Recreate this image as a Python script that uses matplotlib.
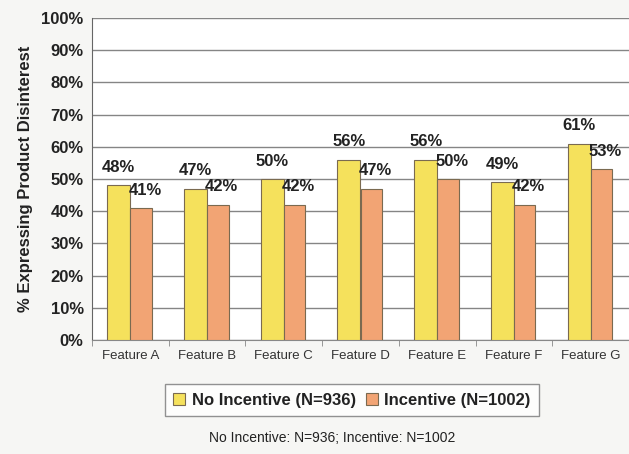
import numpy as np
import matplotlib.pyplot as plt

features = ['Feature A', 'Feature B', 'Feature C', 'Feature D', 'Feature E', 'Feature F', 'Feature G']
no_incentive = [48, 47, 50, 56, 56, 49, 61]
incentive = [41, 42, 42, 47, 50, 42, 53]

plt.rcParams['font.family'] = ['Liberation Sans', 'DejaVu Sans']

fig = plt.figure(figsize=(6.29, 4.54), dpi=100, facecolor='#f6f6f4')
ax = fig.add_axes([92 / 629, 1 - 340 / 454, 537 / 629, 322 / 454])
ax.set_facecolor('white')

x = np.arange(len(features))
w_yellow = 0.30
w_orange = 0.28
edge = '#7a6a50'

bars1 = ax.bar(x - w_yellow / 2, no_incentive, width=w_yellow, color='#f5e15c',
               edgecolor=edge, linewidth=0.8, label='No Incentive (N=936)', zorder=3)
bars2 = ax.bar(x + w_orange / 2, incentive, width=w_orange, color='#f2a474',
               edgecolor=edge, linewidth=0.8, label='Incentive (N=1002)', zorder=3)

# value labels above each bar
for xi, v in zip(x, no_incentive):
    ax.text(xi - w_yellow / 2, v + 3.2, f'{v}%', ha='center', va='bottom',
            fontsize=12, fontweight='bold', color='#222222', zorder=4)
for xi, v in zip(x, incentive):
    ax.text(xi + w_orange / 2 + 0.05, v + 3.2, f'{v}%', ha='center', va='bottom',
            fontsize=12, fontweight='bold', color='#222222', zorder=4)

ax.set_xlim(-0.5, 6.5)
ax.set_ylim(0, 100)
ax.set_yticks(np.arange(0, 101, 10))
ax.set_yticklabels([f'{t}%' for t in range(0, 101, 10)], fontsize=12,
                   fontweight='bold', color='#222222')
ax.yaxis.grid(True, color='#858585', linewidth=1.0, zorder=0)
ax.tick_params(axis='y', length=0, pad=6)

ax.set_xticks(x)
ax.set_xticklabels(features, fontsize=9.5, color='#333333')
ax.set_xticks(np.arange(-0.5, 7, 1), minor=True)
ax.tick_params(axis='x', which='major', length=0, pad=7)
ax.tick_params(axis='x', which='minor', length=4, color='#888888', direction='out')

for side in ['top', 'right']:
    ax.spines[side].set_visible(False)
ax.spines['left'].set_color('#666666')
ax.spines['bottom'].set_color('#888888')

ax.set_ylabel('% Expressing Product Disinterest', fontsize=12, fontweight='bold',
              color='#222222', labelpad=6)

leg = fig.legend(handles=[bars1, bars2], loc='center', bbox_to_anchor=(352 / 629, 1 - 400 / 454),
                 ncol=2, frameon=True, fancybox=False, edgecolor='#777777',
                 prop={'size': 12, 'weight': 'bold'}, handlelength=0.7, handleheight=0.7,
                 handletextpad=0.4, columnspacing=0.6, borderpad=0.5)
leg.get_frame().set_facecolor('white')
for t in leg.get_texts():
    t.set_color('#222222')

fig.text(332 / 629, 1 - 438 / 454, 'No Incentive: N=936; Incentive: N=1002',
         ha='center', va='center', fontsize=10, color='#222222')

fig.savefig('out.png', dpi=100, facecolor=fig.get_facecolor())
